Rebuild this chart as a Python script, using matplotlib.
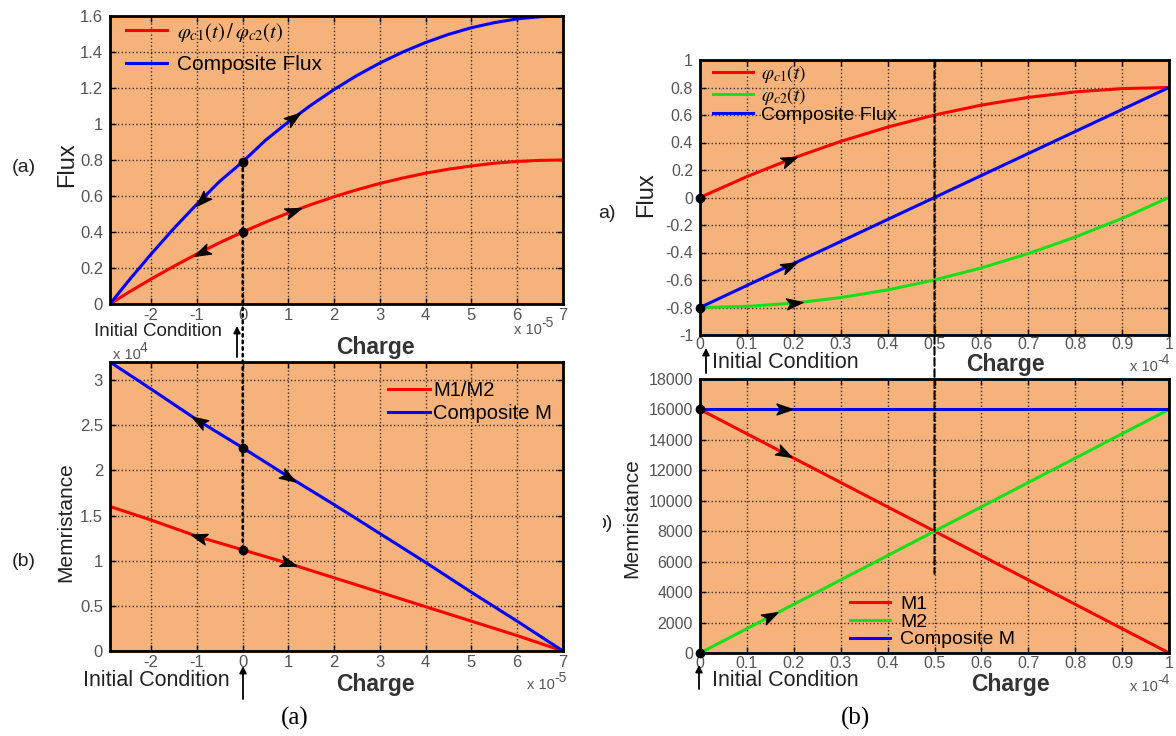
import numpy as np
import matplotlib.pyplot as plt
from matplotlib.path import Path
from matplotlib.markers import MarkerStyle
from matplotlib.transforms import Affine2D, Bbox
from matplotlib.patches import ConnectionPatch

#------Data (charge in units of 1e-5 C on the left, 1e-4 C on the right)------
charge_flux_a = [-2.9, -2.5, -2, -1.5, -1, -0.5, 0, 0.5, 1, 1.5, 2, 2.5, 3, 3.5, 4, 4.5,
                 5, 5.5, 6, 6.5, 7]
phi_single_a = [0, 0.064, 0.139, 0.21, 0.278, 0.341, 0.40, 0.455, 0.506, 0.553, 0.596,
                0.635, 0.67, 0.70, 0.727, 0.749, 0.767, 0.782, 0.792, 0.798, 0.80]
phi_comp_a = [0, 0.127, 0.278, 0.421, 0.555, 0.682, 0.79, 0.91, 1.012, 1.106, 1.192,
              1.27, 1.339, 1.40, 1.453, 1.498, 1.535, 1.563, 1.584, 1.596, 1.60]
# memristance in units of 1e4 ohm
charge_mem_a = [-2.9, -2, -1, 0, 1, 2, 3, 4, 5, 6, 7]
mem_single_a = [1.60, 1.45, 1.27, 1.12, 0.97, 0.81, 0.65, 0.49, 0.33, 0.17, 0]
mem_comp_a = [3.20, 2.90, 2.56, 2.25, 1.93, 1.62, 1.30, 0.98, 0.65, 0.33, 0]

charge_b = [0, 0.1, 0.2, 0.3, 0.4, 0.5, 0.6, 0.7, 0.8, 0.9, 1.0]
phi_c1 = [0, 0.152, 0.288, 0.408, 0.512, 0.60, 0.672, 0.728, 0.768, 0.792, 0.80]
phi_c2 = [-0.80, -0.792, -0.768, -0.728, -0.672, -0.60, -0.512, -0.408, -0.288, -0.152, 0]
phi_comp_b = [-0.80, -0.64, -0.48, -0.32, -0.16, 0, 0.16, 0.32, 0.48, 0.64, 0.80]
m1 = [16000, 14400, 12800, 11200, 9600, 8000, 6400, 4800, 3200, 1600, 0]
m2 = [0, 1600, 3200, 4800, 6400, 8000, 9600, 11200, 12800, 14400, 16000]
m_comp = [16000] * 11
#------Data------

BG = '#F5B27B'
RED = '#FF0000'
BLUE = '#0000FF'
GREEN = '#18E018'
TICKC = '#555555'

plt.rcParams['font.family'] = 'Liberation Sans'
plt.rcParams['mathtext.fontset'] = 'stix'
plt.rcParams['axes.unicode_minus'] = False
W, H = 1176, 736
fig = plt.figure(figsize=(W / 100, H / 100), dpi=100)


def px(x, y):
    return x / W, 1 - y / H


def make_axes(l, t, r, b, fs, xpad=3):
    ax = fig.add_axes([l / W, 1 - b / H, (r - l) / W, (b - t) / H])
    ax.set_facecolor(BG)
    ax.grid(True, linestyle=':', color='black', linewidth=1.0, alpha=0.75)
    ax.tick_params(direction='in', length=4, width=1, top=True, right=True,
                   labelsize=fs, labelcolor=TICKC)
    ax.tick_params(axis='x', pad=xpad)
    ax.tick_params(axis='y', pad=5)
    for s in ax.spines.values():
        s.set_linewidth(2)
    return ax


# arrowhead pointing +x, rotated to follow the curve
HEAD = Path([(1, 0), (-0.9, 0.65), (-0.45, 0), (-0.9, -0.65), (1, 0)],
            [Path.MOVETO, Path.LINETO, Path.LINETO, Path.LINETO, Path.CLOSEPOLY])


def arrow_on(ax, xs, ys, x0, forward=True):
    dx = 0.01 * (xs[-1] - xs[0])
    y0 = np.interp(x0, xs, ys)
    y1 = np.interp(x0 + dx, xs, ys)
    p0 = ax.transData.transform((x0, y0))
    p1 = ax.transData.transform((x0 + dx, y1))
    ang = np.degrees(np.arctan2(p1[1] - p0[1], p1[0] - p0[0]))
    if not forward:
        ang += 180
    m = MarkerStyle(HEAD, transform=Affine2D().rotate_deg(ang))
    ax.plot([x0], [y0], marker=m, color='black', markersize=12, zorder=5)


def power_label(x, y, exp):
    fig.text(*px(x, y), 'x 10', fontsize=10.5, color=TICKC, ha='left', va='center')
    fig.text(*px(x + 27, y - 7), exp, fontsize=10, color=TICKC, ha='left', va='center')


#---------------Top left: flux vs charge---------------
ax1 = make_axes(110, 16, 563, 304, 12)
ax1.set_xlim(-2.9, 7)
ax1.set_ylim(0, 1.6)
ax1.set_xticks(range(-2, 8))
ax1.set_yticks(np.arange(0, 1.61, 0.2))
ax1.set_yticklabels(['0', '0.2', '0.4', '0.6', '0.8', '1', '1.2', '1.4', '1.6'])
ax1.plot(charge_flux_a, phi_single_a, color=RED, lw=2.2,
         label=r'$\varphi_{c1}(t)\,/\,\varphi_{c2}(t)$')
ax1.plot(charge_flux_a, phi_comp_a, color=BLUE, lw=2.2, label='Composite Flux')
ax1.plot([0, 0], [phi_single_a[6], phi_comp_a[6]], 'o', color='black', ms=6, zorder=6)
for ys in (phi_single_a, phi_comp_a):
    arrow_on(ax1, charge_flux_a, ys, -0.9, forward=False)
    arrow_on(ax1, charge_flux_a, ys, 1.1)
ax1.legend(loc='upper left', bbox_to_anchor=px(109, 4), bbox_transform=fig.transFigure,
           frameon=False, fontsize=15, handlelength=2.0, handletextpad=0.45,
           labelspacing=0.55, borderpad=0.3)

#---------------Bottom left: memristance vs charge---------------
ax2 = make_axes(110, 362, 563, 651, 12)
ax2.set_xlim(-2.9, 7)
ax2.set_ylim(0, 3.2)
ax2.set_xticks(range(-2, 8))
ax2.set_yticks(np.arange(0, 3.01, 0.5))
ax2.set_yticklabels(['0', '0.5', '1', '1.5', '2', '2.5', '3'])
ax2.plot(charge_mem_a, mem_single_a, color=RED, lw=2.2, label='M1/M2')
ax2.plot(charge_mem_a, mem_comp_a, color=BLUE, lw=2.2, label='Composite M')
ax2.plot([0, 0], [mem_single_a[3], mem_comp_a[3]], 'o', color='black', ms=6, zorder=6)
for ys in (mem_single_a, mem_comp_a):
    arrow_on(ax2, charge_mem_a, ys, -0.95, forward=False)
    arrow_on(ax2, charge_mem_a, ys, 1.0)
ax2.legend(loc='upper left', bbox_to_anchor=px(374, 367), bbox_transform=fig.transFigure,
           frameon=False, fontsize=14.5, handlelength=2.1, handletextpad=0.15,
           labelspacing=0.2, borderpad=0.2)

#---------------Top right: flux vs charge---------------
ax3 = make_axes(700, 60, 1169, 335, 11.5, xpad=1.5)
ax3.set_xlim(0, 1)
ax3.set_ylim(-1, 1)
ax3.set_xticks(np.arange(0, 1.01, 0.1))
ax3.set_xticklabels(['0', '0.1', '0.2', '0.3', '0.4', '0.5', '0.6', '0.7', '0.8', '0.9', '1'])
ax3.set_yticks(np.arange(-1, 1.01, 0.2))
ax3.set_yticklabels(['-1', '-0.8', '-0.6', '-0.4', '-0.2', '0', '0.2', '0.4', '0.6', '0.8', '1'])
ax3.plot(charge_b, phi_c1, color=RED, lw=2.2, label=r'$\varphi_{c1}(t)$')
ax3.plot(charge_b, phi_c2, color=GREEN, lw=2.2, label=r'$\varphi_{c2}(t)$')
ax3.plot(charge_b, phi_comp_b, color=BLUE, lw=2.2, label='Composite Flux')
ax3.plot([0, 0], [phi_c1[0], phi_c2[0]], 'o', color='black', ms=6, zorder=6, clip_on=False)
arrow_on(ax3, charge_b, phi_c1, 0.19)
arrow_on(ax3, charge_b, phi_comp_b, 0.19)
arrow_on(ax3, charge_b, phi_c2, 0.2)
ax3.legend(loc='upper left', bbox_to_anchor=px(700, 50), bbox_transform=fig.transFigure,
           frameon=False, fontsize=14, handlelength=2.1, handletextpad=0.4,
           labelspacing=0.0, borderpad=0.15)

#---------------Bottom right: memristance vs charge---------------
ax4 = make_axes(700, 379, 1169, 653, 11.5, xpad=2)
ax4.set_xlim(0, 1)
ax4.set_ylim(0, 18000)
ax4.set_xticks(np.arange(0, 1.01, 0.1))
ax4.set_xticklabels(['0', '0.1', '0.2', '0.3', '0.4', '0.5', '0.6', '0.7', '0.8', '0.9', '1'])
ax4.set_yticks(range(0, 18001, 2000))
ax4.plot(charge_b, m1, color=RED, lw=2.2, label='M1')
ax4.plot(charge_b, m2, color=GREEN, lw=2.2, label='M2')
ax4.plot(charge_b, m_comp, color=BLUE, lw=2.2, label='Composite M')
ax4.plot([0, 0], [m1[0], m2[0]], 'o', color='black', ms=6, zorder=6, clip_on=False)
arrow_on(ax4, charge_b, m_comp, 0.18)
arrow_on(ax4, charge_b, m1, 0.18)
arrow_on(ax4, charge_b, m2, 0.15)
ax4.legend(loc='upper left', bbox_to_anchor=px(836, 582), bbox_transform=fig.transFigure,
           frameon=False, fontsize=14, handlelength=2.1, handletextpad=0.5,
           labelspacing=0.0, borderpad=0.2)

#---------------Vertical guide lines linking the panels---------------
fig.add_artist(ConnectionPatch(xyA=(0, phi_comp_a[6]), coordsA=ax1.transData,
                               xyB=(0, mem_single_a[3]), coordsB=ax2.transData,
                               linestyle=':', color='black', lw=1.8, zorder=4))
fig.add_artist(ConnectionPatch(xyA=(0.5, 1), coordsA=ax3.transData,
                               xyB=(0.5, 5200), coordsB=ax4.transData,
                               linestyle='--', color='black', lw=1.5, zorder=4))

#---------------Labels---------------
lab = dict(fontsize=16.5, color='#333333', fontweight='bold', ha='center', va='center')
fig.text(*px(375, 347), 'Charge', **lab)
fig.text(*px(375, 685), 'Charge', **lab)
fig.text(*px(1005, 364), 'Charge', **lab)
fig.text(*px(1010, 685), 'Charge', **lab)
yl = dict(rotation=90, ha='center', va='center', color='#222222')
fig.text(*px(67, 165), 'Flux', fontsize=17, **yl)
fig.text(*px(646, 195), 'Flux', fontsize=17, **yl)
fig.text(*px(66, 522), 'Memristance', fontsize=15, **yl)
fig.text(*px(632, 518), 'Memristance', fontsize=15, **yl)

power_label(514, 330, '-5')
power_label(527, 685, '-5')
power_label(113, 355, '4')
power_label(1130, 367, '-4')
power_label(1130, 687, '-4')

# initial condition markers
ic = dict(color='#222222', va='center', ha='left')
fig.text(*px(94, 331), 'Initial Condition', fontsize=13.5, **ic)
fig.text(*px(83, 680), 'Initial Condition', fontsize=15.5, **ic)
fig.text(*px(712, 363), 'Initial Condition', fontsize=15.5, **ic)
fig.text(*px(712, 681), 'Initial Condition', fontsize=15.5, **ic)
for x, y0, y1 in [(237, 357, 326), (243, 699, 666), (706, 373, 348), (699, 689, 665)]:
    fig.add_artist(ConnectionPatch(xyA=px(x, y0), xyB=px(x, y1), coordsA='figure fraction',
                                   coordsB='figure fraction', arrowstyle='-|>', color='black',
                                   lw=1.3, mutation_scale=10))

# panel tags
fig.text(*px(24, 168), '(a)', ha='center', va='center', fontsize=14, color='#222222')
fig.text(*px(24, 562), '(b)', ha='center', va='center', fontsize=14, color='#222222')
fig.text(*px(598, 213), 'a)', ha='left', va='center', fontsize=14, color='#222222')
tb = fig.text(*px(613, 523), 'b)', ha='right', va='center', fontsize=14, color='#222222')
tb.set_clip_box(Bbox.from_extents(603, 0, W, H))
tb.set_clip_on(True)

cap = dict(fontsize=18, family='Liberation Serif', ha='center', va='center', color='black')
fig.text(*px(295, 718), '(a)', **cap)
fig.text(*px(855, 718), '(b)', **cap)

fig.savefig('out.png', dpi=100)
